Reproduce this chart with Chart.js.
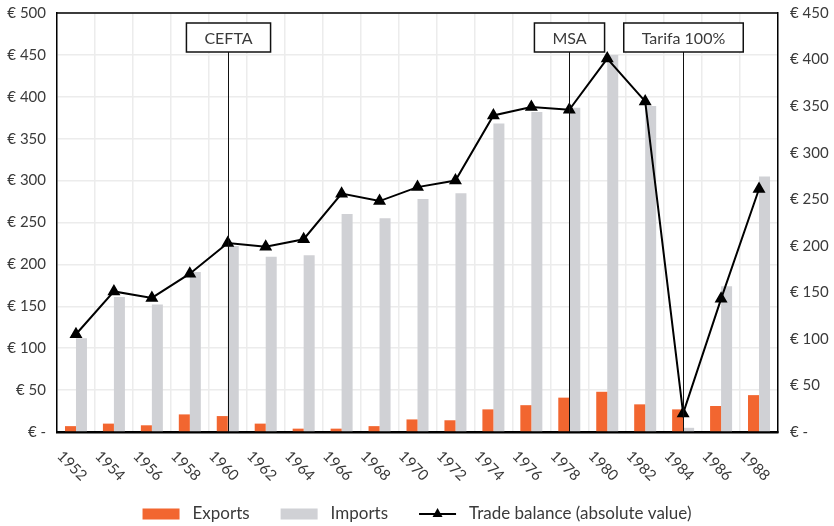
<!DOCTYPE html>
<html>
<head>
<meta charset="utf-8">
<script src="https://cdn.jsdelivr.net/npm/chart.js@4.4.1/dist/chart.umd.min.js"></script>
<style>
  html, body { margin: 0; background: #fff; }
</style>
</head>
<body>
<canvas id="tradeChart" width="834" height="526"></canvas>
<script>
const years = ['1952', '1954', '1956', '1958', '1960', '1962', '1964', '1966', '1968', '1970',
  '1972', '1974', '1976', '1978', '1980', '1982', '1984', '1986', '1988'];
const exportsData = [7, 10, 8, 21, 19, 10, 4, 4, 7, 15, 14, 27, 32, 41, 48, 33, 27, 31, 44];
const importsData = [112, 161, 152, 191, 222, 209, 211, 260, 255, 278, 285, 368, 382, 387, 450, 389, 5, 174, 305];
const tradeBalance = [105, 151, 144, 170, 203, 199, 207, 256, 248, 263, 270, 340, 349, 346, 401, 355, 20, 143, 261];
const eventYears = ['1960', '1978', '1984'];
const eventLabels = ['CEFTA', 'MSA', 'Tarifa 100%'];

const FONT = 'Lato, "Open Sans", sans-serif';
const TEXT = '#3a3a3a';
const ORANGE = '#f26630';
const GREY = '#d0d1d5';
const GRID = '#ececec';

const euro = v => (v === 0 ? '€ -' : '€ ' + v);

// vertical event lines with a label box on top
const eventMarkers = {
  id: 'eventMarkers',
  afterDatasetsDraw(chart) {
    const { ctx, chartArea, scales } = chart;
    ctx.save();
    ctx.font = '16px ' + FONT;
    eventYears.forEach((yr, i) => {
      const x = Math.round(scales.x.getPixelForValue(years.indexOf(yr))) + 0.5;
      const w = ctx.measureText(eventLabels[i]).width + 36;
      const top = chartArea.top + 10;
      const h = 29;
      ctx.strokeStyle = '#111';
      ctx.lineWidth = 1;
      ctx.beginPath();
      ctx.moveTo(x, top + h);
      ctx.lineTo(x, chartArea.bottom);
      ctx.stroke();
      ctx.fillStyle = '#fff';
      ctx.fillRect(x - w / 2, top, w, h);
      ctx.lineWidth = 1.5;
      ctx.strokeRect(x - w / 2, top, w, h);
      ctx.fillStyle = TEXT;
      ctx.textAlign = 'center';
      ctx.textBaseline = 'middle';
      ctx.fillText(eventLabels[i], x, top + h / 2 + 1);
    });
    ctx.restore();
  }
};

// top edge of the frame, year labels turned clockwise, and the legend row
const extras = {
  id: 'extras',
  afterDraw(chart) {
    const { ctx, chartArea, scales } = chart;
    ctx.save();
    ctx.strokeStyle = '#000';
    ctx.lineWidth = 1.5;
    ctx.beginPath();
    ctx.moveTo(chartArea.left, chartArea.top);
    ctx.lineTo(chartArea.right, chartArea.top);
    ctx.stroke();

    ctx.font = '15px ' + FONT;
    ctx.fillStyle = TEXT;
    ctx.textAlign = 'center';
    ctx.textBaseline = 'middle';
    years.forEach((yr, i) => {
      const x = scales.x.getPixelForTick(i);
      ctx.save();
      ctx.translate(x - 4, chartArea.bottom + 34);
      ctx.rotate(Math.PI / 4);
      ctx.fillText(yr, 0, 0);
      ctx.restore();
    });

    const items = chart.data.datasets.slice(1).concat(chart.data.datasets[0]);
    ctx.font = '17px ' + FONT;
    const sw = 37, gap = 13, space = 31;
    const widths = items.map(d => sw + gap + ctx.measureText(d.label).width);
    const total = widths.reduce((a, b) => a + b, 0) + space * (items.length - 1);
    let x = chart.width / 2 - total / 2;
    const y = 514;
    ctx.textAlign = 'left';
    items.forEach((d, i) => {
      if (d.type === 'line') {
        ctx.strokeStyle = '#000';
        ctx.lineWidth = 2;
        ctx.beginPath();
        ctx.moveTo(x, y);
        ctx.lineTo(x + sw, y);
        ctx.stroke();
        ctx.fillStyle = '#000';
        ctx.beginPath();
        ctx.moveTo(x + sw / 2, y - 6);
        ctx.lineTo(x + sw / 2 + 5, y + 3);
        ctx.lineTo(x + sw / 2 - 5, y + 3);
        ctx.closePath();
        ctx.fill();
      } else {
        ctx.fillStyle = d.backgroundColor;
        ctx.fillRect(x, y - 5.5, sw, 11);
      }
      ctx.fillStyle = TEXT;
      ctx.fillText(d.label, x + sw + gap, y);
      x += widths[i] + space;
    });
    ctx.restore();
  }
};

// keep the y axes from pushing the plot area down
const noOverflow = scale => {
  scale.paddingTop = 0;
  scale.paddingBottom = 0;
};

new Chart(document.getElementById('tradeChart'), {
  type: 'bar',
  data: {
    labels: years,
    datasets: [{
      type: 'line',
      label: 'Trade balance (absolute value)',
      data: tradeBalance,
      yAxisID: 'y1',
      borderColor: '#000',
      borderWidth: 2,
      pointStyle: 'triangle',
      pointRadius: 5.5,
      pointBackgroundColor: '#000',
      pointBorderColor: '#000',
      tension: 0,
      order: 0
    }, {
      label: 'Exports',
      data: exportsData,
      backgroundColor: ORANGE,
      yAxisID: 'y',
      categoryPercentage: 0.58,
      barPercentage: 1,
      order: 1
    }, {
      label: 'Imports',
      data: importsData,
      backgroundColor: GREY,
      yAxisID: 'y',
      categoryPercentage: 0.58,
      barPercentage: 1,
      order: 1
    }]
  },
  options: {
    responsive: false,
    animation: false,
    layout: { padding: { top: 13, left: 0, right: 0, bottom: 0 } },
    plugins: {
      legend: { display: false },
      tooltip: { enabled: false }
    },
    scales: {
      x: {
        grid: { color: GRID, lineWidth: 1.5, drawTicks: false, offset: true },
        border: { color: '#000', width: 2.5 },
        ticks: { display: false },
        afterFit(scale) { scale.height = 94; }
      },
      y: {
        position: 'left',
        min: 0,
        max: 500,
        grid: { color: GRID, lineWidth: 1.5, drawTicks: false },
        border: { color: '#000', width: 1.5 },
        ticks: {
          stepSize: 50,
          padding: 11,
          color: TEXT,
          font: { family: FONT, size: 15 },
          callback: euro
        },
        afterFit(scale) { scale.width = 57; noOverflow(scale); }
      },
      y1: {
        position: 'right',
        min: 0,
        max: 450,
        grid: { display: false, drawTicks: false },
        border: { color: '#000', width: 1.5 },
        ticks: {
          stepSize: 50,
          padding: 12,
          color: TEXT,
          font: { family: FONT, size: 15 },
          callback: euro
        },
        afterFit(scale) { scale.width = 56; noOverflow(scale); }
      }
    }
  },
  plugins: [eventMarkers, extras]
});
</script>
</body>
</html>
